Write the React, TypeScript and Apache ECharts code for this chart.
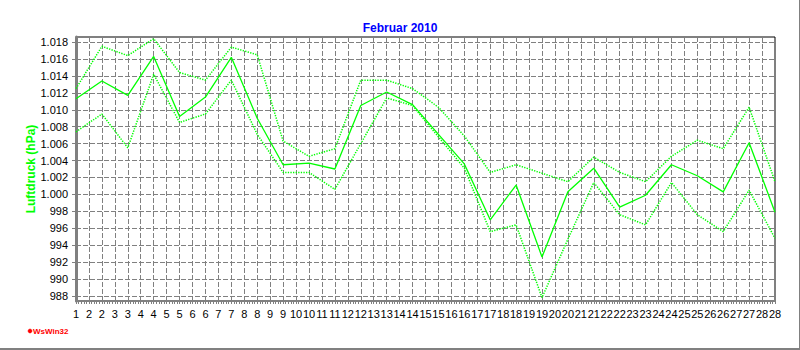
import React, { useEffect, useRef } from "react";
import * as echarts from "echarts";

const days = [1, 2, 3, 4, 5, 6, 7, 8, 9, 10, 11, 12, 13, 14, 15, 16, 17, 18, 19, 20, 21, 22, 23, 24, 25, 26, 27, 28];

const meanPressure = [
  1011.3, 1013.4, 1011.7, 1016.3, 1009.2, 1011.5, 1016.2, 1009.0, 1003.5, 1003.7,
  1003.0, 1010.5, 1012.1, 1010.6, 1007.1, 1003.6, 997.0, 1001.1, 992.6, 1000.3,
  1003.1, 998.5, 999.9, 1003.5, 1002.2, 1000.3, 1006.1, 997.9,
];

const maxPressure = [
  1012.5, 1017.5, 1016.4, 1018.4, 1014.4, 1013.5, 1017.4, 1016.5, 1006.3, 1004.5,
  1005.4, 1013.5, 1013.5, 1012.5, 1010.3, 1006.9, 1002.6, 1003.5, 1002.5, 1001.5,
  1004.4, 1002.6, 1001.5, 1004.5, 1006.4, 1005.4, 1010.3, 1001.5,
];

const minPressure = [
  1007.4, 1009.5, 1005.5, 1014.2, 1008.5, 1009.5, 1013.5, 1007.1, 1002.6, 1002.6,
  1000.6, 1006.0, 1011.4, 1010.5, 1006.8, 1003.1, 995.6, 996.4, 987.8, 994.7,
  1001.4, 997.6, 996.4, 1001.4, 997.6, 995.6, 1000.5, 994.8,
];

const FONT = "Liberation Sans, Arial, sans-serif";
const GRID_GRAY = "#808080";
const GREEN = "#00ff00";

function pairs(values: number[]) {
  return days.map((d, i) => [d, values[i]]);
}

function yLabel(v: number): string {
  const n = Math.round(v);
  if (Math.abs(v - n) > 0.01 || n % 2 !== 0) return "";
  if (n >= 1000) return "1." + String(n - 1000).padStart(3, "0");
  return String(n);
}

export default function App() {
  const ref = useRef<HTMLDivElement>(null);

  useEffect(() => {
    document.body.style.margin = "0";
    if (!ref.current) return;
    const chart = echarts.init(ref.current, null, { renderer: "svg", width: 800, height: 350 });
    chart.setOption({
      animation: false,
      backgroundColor: "#ffffff",
      title: {
        text: "Februar 2010",
        left: "center",
        top: 17,
        textStyle: { color: "#0000ff", fontSize: 12, fontWeight: "bold", fontFamily: FONT },
      },
      grid: {
        left: 76,
        right: 25,
        top: 37,
        bottom: 49,
        show: true,
        borderColor: "#000000",
        borderWidth: 1,
        backgroundColor: "transparent",
      },
      xAxis: {
        type: "value",
        min: 1,
        max: 28,
        interval: 0.5,
        axisLine: { show: true, onZero: false, lineStyle: { color: GRID_GRAY, width: 2 } },
        axisTick: { show: true, length: 3, lineStyle: { color: GRID_GRAY } },
        minorTick: { show: true, splitNumber: 5, length: 3, lineStyle: { color: GRID_GRAY } },
        axisLabel: {
          formatter: (v: number) => String(Math.round(v)),
          color: "#000000",
          fontSize: 11,
          fontFamily: FONT,
          margin: 7,
        },
        splitLine: { show: true, lineStyle: { color: GRID_GRAY, width: 1, type: [5, 2] } },
      },
      yAxis: {
        type: "value",
        min: 987.4,
        max: 1018.6,
        splitNumber: 15,
        minInterval: 2,
        maxInterval: 2,
        name: "Luftdruck (hPa)",
        nameLocation: "middle",
        nameGap: 39,
        nameMoveOverlap: false,
        nameTextStyle: { color: GREEN, fontWeight: "bold", fontSize: 12, fontFamily: FONT },
        axisLine: { show: true, lineStyle: { color: GRID_GRAY, width: 3 } },
        axisTick: { show: true, length: 4, lineStyle: { color: GRID_GRAY } },
        axisLabel: {
          formatter: yLabel,
          showMinLabel: false,
          showMaxLabel: false,
          color: "#000000",
          fontSize: 11,
          fontFamily: FONT,
          margin: 8,
        },
        splitLine: { show: true, lineStyle: { color: GRID_GRAY, width: 1, type: [5, 2] } },
      },
      series: [
        {
          name: "Max",
          type: "line",
          data: pairs(maxPressure),
          symbol: "none",
          clip: false,
          lineStyle: { color: GREEN, width: 1.5, type: [1.3, 1.3] },
        },
        {
          name: "Min",
          type: "line",
          data: pairs(minPressure),
          symbol: "none",
          clip: false,
          lineStyle: { color: GREEN, width: 1.5, type: [1.3, 1.3] },
        },
        {
          name: "Mittel",
          type: "line",
          data: pairs(meanPressure),
          symbol: "none",
          clip: false,
          lineStyle: { color: GREEN, width: 1.3 },
        },
      ],
      graphic: [
        { type: "circle", shape: { cx: 30, cy: 331, r: 2 }, style: { fill: "#ff0000", stroke: "#ff0000", lineWidth: 0.5 } },
        {
          type: "text",
          x: 33,
          y: 327,
          style: { text: "WsWin32", fill: "#ff0000", font: "bold 8px " + FONT },
        },
        { type: "rect", shape: { x: 0, y: 348, width: 800, height: 2 }, style: { fill: GRID_GRAY } },
        { type: "rect", shape: { x: 799, y: 0, width: 1, height: 350 }, style: { fill: GRID_GRAY } },
      ],
    });
    return () => chart.dispose();
  }, []);

  return <div ref={ref} style={{ width: 800, height: 350, background: "#ffffff" }} />;
}
